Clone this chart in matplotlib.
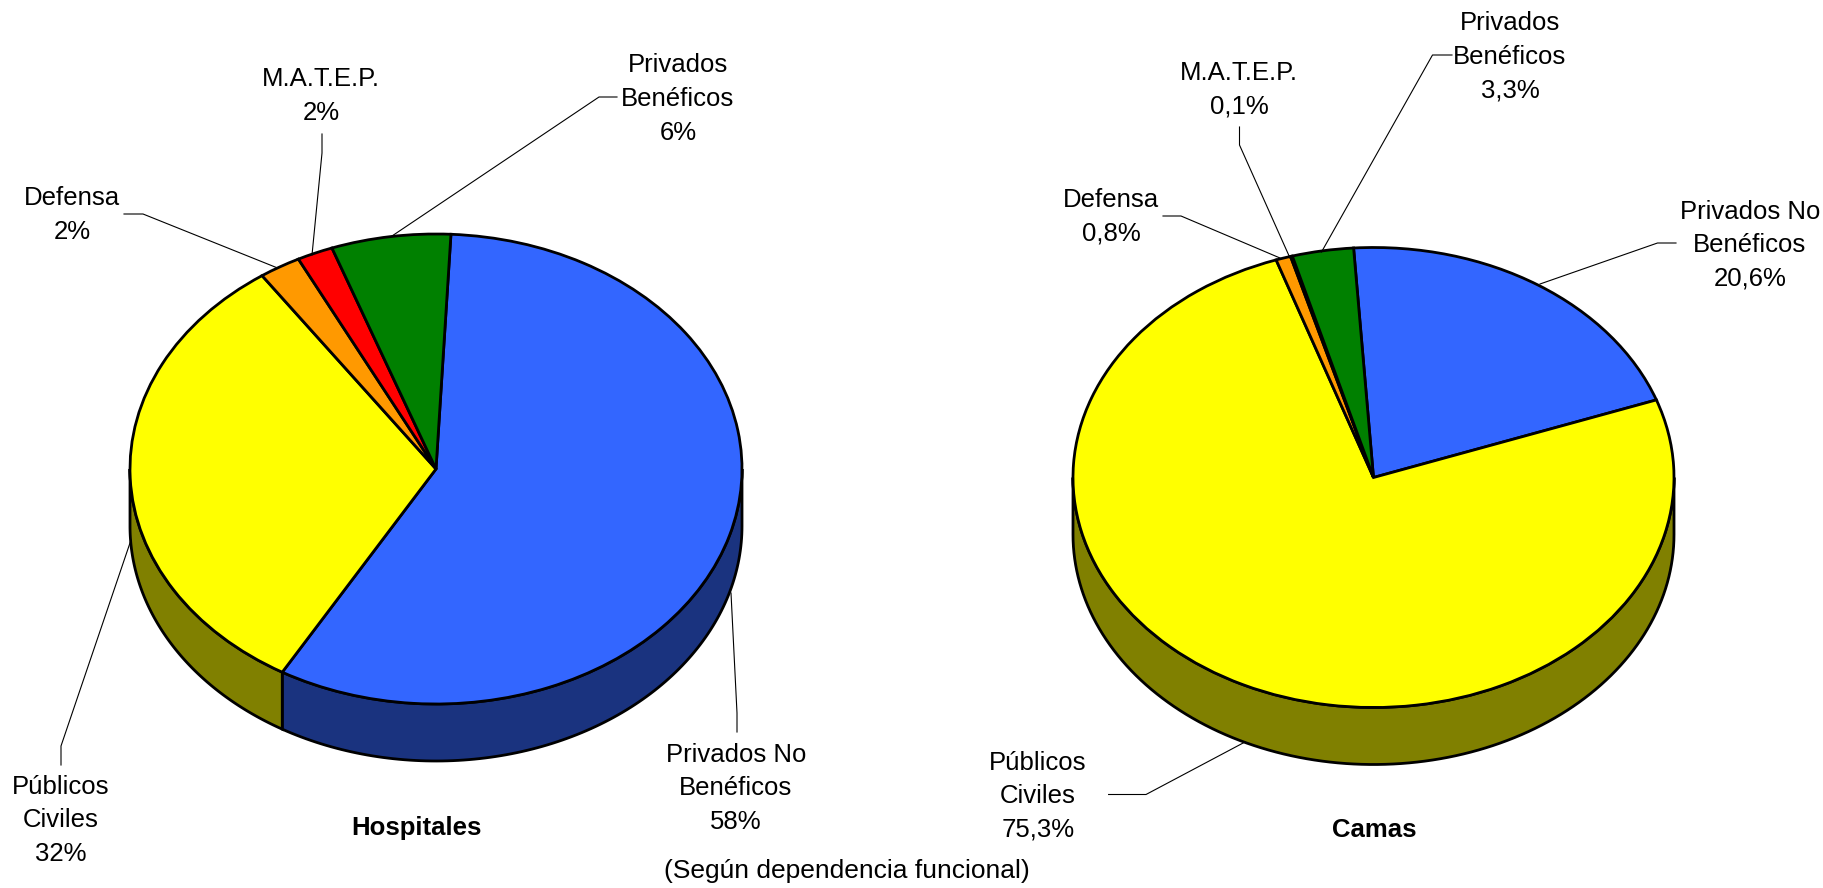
import numpy as np
import matplotlib
matplotlib.use("Agg")
import matplotlib.pyplot as plt
from matplotlib.lines import Line2D

plt.rcParams['font.family'] = ['Liberation Sans', 'DejaVu Sans']

# Orden de los sectores: sentido horario desde el azul
categorias = ['Privados No Benéficos', 'Públicos Civiles', 'Defensa', 'M.A.T.E.P.', 'Privados Benéficos']
hospitales = [57.6, 32, 2.2, 1.9, 6.3]
camas = [20.6, 75.3, 0.8, 0.1, 3.3]
colores = ['#3366FF', '#FFFF00', '#FF9900', '#FF0000', '#008000']
colores_lado = ['#1A337F', '#808000', '#804C00', '#800000', '#004000']

ANCHO, ALTO = 1824, 888
LW = 2.0
FS = 18.5
ESP = 1.5

fig = plt.figure(figsize=(ANCHO / 100, ALTO / 100), dpi=100, facecolor='white')


def dibujar_pie(valores, cx, cy, rx, ry, prof, inicio):
    """Pie inclinado: se aplasta el círculo dejando aspect auto y se añade el lateral."""
    d = prof / ry
    left = (cx - rx - 6) / ANCHO
    ancho = (2 * rx + 12) / ANCHO
    arriba = cy - ry - 6
    abajo = cy + ry + prof + 6
    ax = fig.add_axes([left, 1 - abajo / ALTO, ancho, (abajo - arriba) / ALTO])

    # Lateral: sólo la parte delantera de cada sector (ángulos entre -180 y 0)
    total = sum(valores)
    a = inicio
    for v, col in zip(valores, colores_lado):
        b = a - 360 * v / total
        lo, hi = max(b, -180), min(a, 0)
        if hi > lo:
            th = np.radians(np.linspace(lo, hi, 120))
            xs = np.cos(th)
            ys = np.sin(th)
            ax.fill(np.r_[xs, xs[::-1]], np.r_[ys, ys[::-1] - d],
                    facecolor=col, edgecolor='black', linewidth=LW)
        a = b

    ax.pie(valores, colors=colores, startangle=inicio, counterclock=False,
           wedgeprops={'edgecolor': 'black', 'linewidth': LW})
    ax.set_aspect('auto')
    ax.set_xlim(-1 - 6 / rx, 1 + 6 / rx)
    ax.set_ylim(-1 - d - 6 / ry, 1 + 6 / ry)
    ax.axis('off')
    return ax


dibujar_pie(hospitales, 436, 469, 306, 235, 57, 87.2)
dibujar_pie(camas, 1373.5, 477.5, 300.5, 230, 57, 93.8)

# Capa de textos en píxeles de la imagen
capa = fig.add_axes([0, 0, 1, 1])
capa.set_xlim(0, ANCHO)
capa.set_ylim(ALTO, 0)
capa.axis('off')
capa.patch.set_alpha(0)

etiquetas = [
    ('Privados\nBenéficos\n6%', 678, 99),
    ('M.A.T.E.P.\n2%', 321, 96),
    ('Defensa\n2%', 72, 215),
    ('Públicos\nCiviles\n32%', 60.5, 820),
    ('Privados No\nBenéficos\n58%', 736, 788),
    ('Privados\nBenéficos\n3,3%', 1510, 57),
    ('M.A.T.E.P.\n0,1%', 1239, 90),
    ('Defensa\n0,8%', 1111, 217),
    ('Privados No\nBenéficos\n20,6%', 1750, 245),
    ('Públicos\nCiviles\n75,3%', 1038, 796),
]
for txt, x, y in etiquetas:
    capa.text(x, y, txt, ha='center', va='center', fontsize=FS, linespacing=ESP, color='black')

capa.text(416, 828, 'Hospitales', ha='center', va='center', fontsize=FS, fontweight='bold')
capa.text(1374, 830, 'Camas', ha='center', va='center', fontsize=FS, fontweight='bold')
capa.text(847, 871, '(Según dependencia funcional)', ha='center', va='center', fontsize=19)

guias = [
    [(617, 97), (599, 97), (390.5, 237)],
    [(322, 134), (322, 153), (312, 255)],
    [(124, 214), (143, 214), (277.6, 268)],
    [(131, 540), (61, 746), (61, 765)],
    [(731, 593), (737, 713), (737, 732)],
    [(1452, 55), (1432.5, 55), (1321.5, 252)],
    [(1239.5, 127), (1239.5, 145), (1290, 258)],
    [(1163, 216), (1181, 216), (1280, 258)],
    [(1676, 243), (1657.5, 243), (1540, 284)],
    [(1108.6, 794.5), (1146, 794.5), (1245, 742)],
]
for g in guias:
    xs, ys = zip(*g)
    capa.add_line(Line2D(xs, ys, color='black', linewidth=0.8))

fig.savefig('out.png', dpi=100)
